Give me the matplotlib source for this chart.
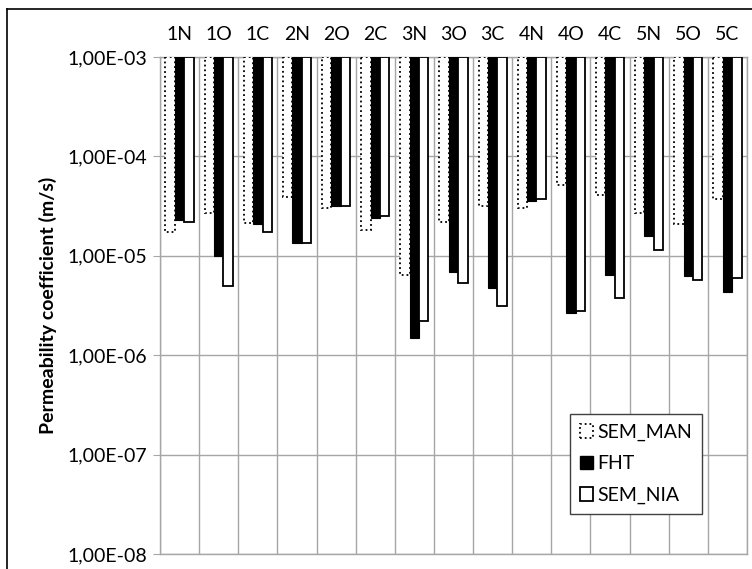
import numpy as np
import matplotlib.pyplot as plt
from matplotlib.ticker import FixedLocator, FuncFormatter, NullLocator
from matplotlib.lines import Line2D

plt.rcParams['font.family'] = ['Lato', 'DejaVu Sans']

amostras = ["1N", "1O", "1C", "2N", "2O", "2C", "3N", "3O", "3C",
            "4N", "4O", "4C", "5N", "5O", "5C"]
sem_man = [1.75e-5, 2.72e-5, 2.13e-5, 3.86e-5, 3.0e-5, 1.8e-5, 6.4e-6, 2.21e-5, 3.2e-5,
           3.0e-5, 5.1e-5, 4.1e-5, 2.68e-5, 2.08e-5, 3.74e-5]
fht = [2.30e-5, 9.85e-6, 2.1e-5, 1.36e-5, 3.2e-5, 2.41e-5, 1.49e-6, 6.8e-6, 4.7e-6,
       3.57e-5, 2.65e-6, 6.34e-6, 1.59e-5, 6.2e-6, 4.3e-6]
sem_nia = [2.21e-5, 5.0e-6, 1.72e-5, 1.34e-5, 3.18e-5, 2.52e-5, 2.22e-6, 5.3e-6, 3.1e-6,
           3.74e-5, 2.8e-6, 3.76e-6, 1.15e-5, 5.65e-6, 6.0e-6]

TOPO = 1e-3
cinza = '#a6a6a6'
fs = 14

fig = plt.figure(figsize=(7.52, 5.69), dpi=100)
ax = fig.add_axes([160 / 752, 1 - 554 / 569, 587 / 752, 497 / 569])

x = np.arange(len(amostras))
w = 0.24
for i, (vals, estilo) in enumerate([
        (sem_man, dict(facecolor='white', edgecolor='black', linestyle=':', linewidth=1.3)),
        (fht, dict(facecolor='black', edgecolor='black', linewidth=0.8)),
        (sem_nia, dict(facecolor='white', edgecolor='black', linewidth=1.3))]):
    vals = np.array(vals)
    ax.bar(x + (i - 1) * w, vals - TOPO, bottom=TOPO, width=w, zorder=3, **estilo)

ax.set_yscale('log')
ax.set_ylim(1e-8, 1e-3)
ax.set_xlim(-0.5, len(amostras) - 0.5)

ax.yaxis.set_major_locator(FixedLocator([1e-8, 1e-7, 1e-6, 1e-5, 1e-4, 1e-3]))
ax.yaxis.set_minor_locator(NullLocator())
ax.yaxis.set_major_formatter(FuncFormatter(lambda v, p: "1,00E-%02d" % round(-np.log10(v))))
ax.tick_params(axis='y', length=5, color=cinza, labelsize=fs, pad=4)

ax.xaxis.tick_top()
ax.set_xticks(x)
ax.set_xticklabels(amostras)
ax.set_xticks(np.arange(-0.5, len(amostras)), minor=True)
ax.tick_params(axis='x', which='major', length=0, labelsize=fs, pad=10)
ax.tick_params(axis='x', which='minor', length=0)

ax.grid(True, axis='y', which='major', color=cinza, linewidth=1, zorder=0)
ax.grid(True, axis='x', which='minor', color=cinza, linewidth=1, zorder=0)
for s in ax.spines.values():
    s.set_color(cinza)
    s.set_linewidth(1)

ax.set_ylabel("Permeability coefficient (m/s)", fontsize=fs, fontweight='bold', labelpad=8)

handles = [plt.Rectangle((0, 0), 1, 1, facecolor='white', edgecolor='black', linestyle=':', linewidth=1.3),
           plt.Rectangle((0, 0), 1, 1, facecolor='black', edgecolor='black'),
           plt.Rectangle((0, 0), 1, 1, facecolor='white', edgecolor='black', linewidth=1.3)]
leg = ax.legend(handles, ["SEM_MAN", "FHT", "SEM_NIA"], loc='lower left',
                bbox_to_anchor=(410 / 587, 40 / 497), fontsize=fs, fancybox=False,
                framealpha=1, edgecolor='#404040', handlelength=0.7, handleheight=0.7,
                handletextpad=0.2, labelspacing=0.75, borderpad=0.5, borderaxespad=0)
leg.get_frame().set_linewidth(1)
leg.set_zorder(5)

# moldura da figura (esquerda e topo)
fig.add_artist(Line2D([7 / 752, 7 / 752], [0, 1 - 9 / 569], color='black', linewidth=1.2))
fig.add_artist(Line2D([7 / 752, 1], [1 - 9 / 569, 1 - 9 / 569], color='black', linewidth=1.2))

fig.savefig("out.png", dpi=100)
